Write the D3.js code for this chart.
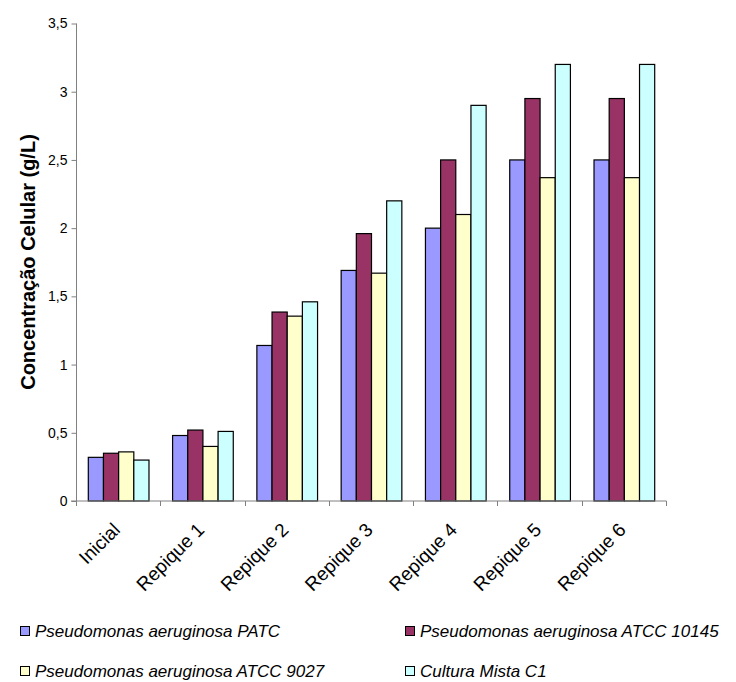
<!DOCTYPE html>
<html>
<head>
<meta charset="utf-8">
<script src="https://cdn.jsdelivr.net/npm/d3@7"></script>
<style>
  html, body { margin: 0; padding: 0; background: #fff; }
  svg { display: block; font-family: Arial, "Liberation Sans", sans-serif; }
</style>
</head>
<body>
<svg id="chart" width="736" height="682"></svg>
<script>
// Culture stages (x categories)
const categories = ["Inicial", "Repique 1", "Repique 2", "Repique 3", "Repique 4", "Repique 5", "Repique 6"];

// Cell concentration (g/L) per strain
const seriesNames = [
  "Pseudomonas aeruginosa PATC",
  "Pseudomonas aeruginosa ATCC 10145",
  "Pseudomonas aeruginosa ATCC 9027",
  "Cultura Mista C1"
];
const patc      = [0.32, 0.48, 1.14, 1.69, 2.00, 2.50, 2.50];
const atcc10145 = [0.35, 0.52, 1.385, 1.96, 2.50, 2.95, 2.95];
const atcc9027  = [0.36, 0.40, 1.355, 1.67, 2.10, 2.37, 2.37];
const mistaC1   = [0.30, 0.51, 1.46, 2.20, 2.90, 3.20, 3.20];
const seriesValues = [patc, atcc10145, atcc9027, mistaC1];
const seriesColors = ["#9999FF", "#993366", "#FFFFCC", "#CCFFFF"];

// Y axis ticks
const yTicks = [0, 0.5, 1, 1.5, 2, 2.5, 3, 3.5];
const yTickLabels = ["0", "0,5", "1", "1,5", "2", "2,5", "3", "3,5"];

const svg = d3.select("#chart");
const plot = { left: 76, right: 666, top: 23, bottom: 500.5 };

const x = d3.scaleBand()
  .domain(categories)
  .range([plot.left, plot.right])
  .paddingInner(0.28)
  .paddingOuter(0.14);

const xSub = d3.scaleBand()
  .domain(d3.range(seriesNames.length))
  .range([0, x.bandwidth()]);

const y = d3.scaleLinear().domain([0, 3.5]).range([plot.bottom, plot.top]);

// Bars
const groups = svg.append("g").selectAll("g")
  .data(categories)
  .join("g")
  .attr("transform", d => `translate(${x(d)},0)`);

groups.selectAll("rect")
  .data((c, i) => seriesValues.map((vals, s) => ({ s, v: vals[i] })))
  .join("rect")
  .attr("x", d => xSub(d.s) + 0.5)
  .attr("y", d => y(d.v) + 0.5)
  .attr("width", xSub.bandwidth())
  .attr("height", d => y(0) - y(d.v))
  .attr("fill", d => seriesColors[d.s])
  .attr("stroke", "#000")
  .attr("stroke-width", 1.2);

// Y axis
const yAxis = d3.axisLeft(y)
  .tickValues(yTicks)
  .tickFormat((d, i) => yTickLabels[i])
  .tickSize(5)
  .tickPadding(4);

const gy = svg.append("g")
  .attr("transform", `translate(${plot.left + 0.5},0.5)`)
  .call(yAxis);
gy.select(".domain").attr("stroke", "#808080").attr("d", `M0,${y(3.5)}V${y(0)}`);
gy.selectAll(".tick line").attr("stroke", "#808080");
gy.selectAll(".tick text").attr("font-size", 14).attr("fill", "#000")
  .attr("font-family", "Arial, 'Liberation Sans', sans-serif");

// X axis line with tick marks at category boundaries
const step = x.step();
const boundaries = d3.range(categories.length + 1).map(i => plot.left + i * step);
const gx = svg.append("g").attr("transform", `translate(0,${plot.bottom + 0.5})`);
gx.append("line")
  .attr("x1", plot.left - 5).attr("x2", plot.right + 0.5)
  .attr("stroke", "#808080");
gx.selectAll("line.tk")
  .data(boundaries)
  .join("line")
  .attr("class", "tk")
  .attr("x1", d => Math.round(d) + 0.5).attr("x2", d => Math.round(d) + 0.5)
  .attr("y1", 0).attr("y2", 5)
  .attr("stroke", "#808080");

// Rotated category labels
svg.append("g").selectAll("text")
  .data(categories)
  .join("text")
  .attr("transform", d => `translate(${x(d) + x.bandwidth() / 2 + 3},531) rotate(-45)`)
  .attr("text-anchor", "end")
  .attr("font-size", 19)
  .text(d => d);

// Y axis title
svg.append("text")
  .attr("transform", `translate(35,262) rotate(-90)`)
  .attr("text-anchor", "middle")
  .attr("font-size", 20)
  .attr("font-weight", "bold")
  .text("Concentração Celular (g/L)");

// Legend
const legendPos = [
  { x: 20, y: 631 },
  { x: 405, y: 631 },
  { x: 20, y: 671 },
  { x: 405, y: 671 }
];
const legend = svg.append("g").selectAll("g")
  .data(seriesNames)
  .join("g")
  .attr("transform", (d, i) => `translate(${legendPos[i].x},${legendPos[i].y})`);
legend.append("rect")
  .attr("x", 0.5).attr("y", -4.5)
  .attr("width", 9).attr("height", 9)
  .attr("fill", (d, i) => seriesColors[i])
  .attr("stroke", "#000");
legend.append("text")
  .attr("x", 15).attr("y", 6)
  .attr("font-size", 17)
  .attr("font-style", "italic")
  .text(d => d);
</script>
</body>
</html>
